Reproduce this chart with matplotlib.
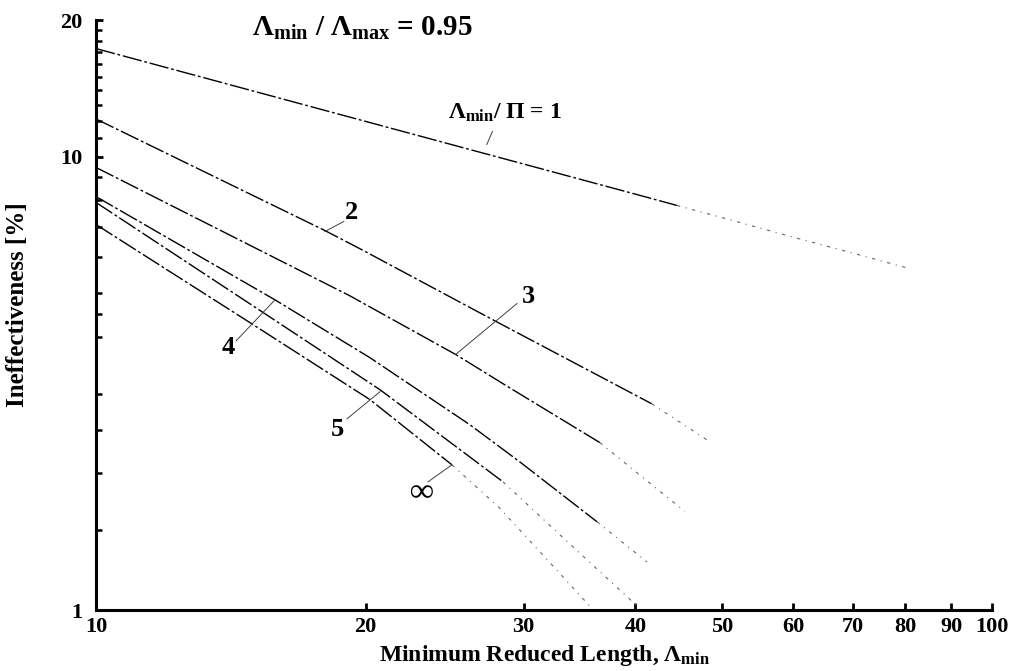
import numpy as np
import matplotlib
matplotlib.use("Agg")
import matplotlib.pyplot as plt

plt.rcParams['font.family'] = ['Liberation Serif', 'DejaVu Serif']
plt.rcParams['font.weight'] = 'bold'
plt.rcParams['mathtext.fontset'] = 'custom'
plt.rcParams['mathtext.rm'] = 'Liberation Serif:bold'
plt.rcParams['mathtext.it'] = 'Liberation Serif:bold'
plt.rcParams['mathtext.bf'] = 'Liberation Serif:bold'

# curves: x = minimum reduced length, y = ineffectiveness [%]
c1_x = [10, 20, 28.2, 40, 44.5, 50, 60, 70, 80.9]
c1_y = [17.3, 11.95, 9.95, 8.26, 7.80, 7.33, 6.64, 6.12, 5.66]
c2_x = [10, 18.0, 19.8, 28.0, 41.7, 48.1]
c2_y = [12.1, 6.87, 6.23, 4.32, 2.85, 2.37]
c3_x = [10, 19.2, 25.2, 28.8, 36.5, 41.7, 45.4]
c3_y = [9.46, 4.93, 3.66, 3.11, 2.34, 1.89, 1.65]
c4_x = [10, 15.84, 20.22, 26.15, 29.73, 36.24, 41.2]
c4_y = [8.16, 4.83, 3.60, 2.56, 2.12, 1.565, 1.276]
c5_x = [10, 15.44, 20.75, 28.46, 33.04, 39.74, 40.5]
c5_y = [7.92, 4.50, 3.06, 1.917, 1.457, 1.041, 1.0]
cinf_x = [10, 14.97, 20.22, 24.96, 28.2, 32.28, 35.9]
cinf_y = [7.08, 4.26, 2.91, 2.09, 1.68, 1.257, 1.0]

x_ticks = [10, 20, 30, 40, 50, 60, 70, 80, 90, 100]
y_ticks = [1, 10, 20]
y_minor = [1.5, 2, 2.5, 3, 4, 4.5, 5, 6, 7, 8, 9,
           11, 12, 13, 14, 15, 16, 17, 18, 19]

curves = [(c1_x, c1_y), (c2_x, c2_y), (c3_x, c3_y),
          (c4_x, c4_y), (c5_x, c5_y), (cinf_x, cinf_y)]
fade_at = [4, 4, 4, 5, 3, 3]   # index where the line turns faint

fig = plt.figure(figsize=(10.12, 6.71), dpi=100)
ax = fig.add_axes([96 / 1012, 61 / 671, 896 / 1012, 590 / 671])
ax.set_xscale('log')
ax.set_yscale('log')
ax.set_xlim(10, 100)
ax.set_ylim(1, 20)

for (cx, cy), k in zip(curves, fade_at):
    ax.plot(cx[:k + 1], cy[:k + 1], color='black', lw=1.0,
            dashes=(14, 2, 2, 2))
    ax.plot(cx[k:], cy[k:], color='0.4', lw=0.8, dashes=(3, 5, 1, 5))

for s in ['top', 'right']:
    ax.spines[s].set_visible(False)
for s in ['left', 'bottom']:
    ax.spines[s].set_linewidth(2.2)

ax.set_xticks(x_ticks)
ax.set_xticklabels([str(v) for v in x_ticks])
ax.xaxis.set_minor_locator(matplotlib.ticker.NullLocator())
ax.set_yticks(y_ticks)
ax.set_yticklabels([str(v) for v in y_ticks])
ax.set_yticks(y_minor, minor=True)
ax.yaxis.set_minor_formatter(matplotlib.ticker.NullFormatter())
ax.tick_params(axis='x', which='major', direction='in', length=5, width=2,
               labelsize=16, pad=5)
ax.tick_params(axis='y', which='major', direction='in', length=5, width=2,
               labelsize=16, pad=10)
ax.tick_params(axis='y', which='minor', direction='in', length=4, width=1.8)

# curve labels and leaders
lead = dict(color='0.25', lw=0.7)
ax.text(28.6, 12.5, r'$\Lambda_{\mathrm{min}}$/ $\Pi$ = 1', fontsize=17,
        ha='center', va='center')
ax.plot([27.7, 27.3], [11.36, 10.63], **lead)
ax.text(19.3, 7.52, '2', fontsize=19, ha='center', va='center')
ax.plot([18.9, 18.0], [7.19, 6.83], **lead)
ax.text(30.35, 4.91, '3', fontsize=19, ha='center', va='center')
ax.plot([29.5, 25.2], [4.74, 3.66], **lead)
ax.text(14.04, 3.79, '4', fontsize=19, ha='center', va='center')
ax.plot([14.33, 15.84], [3.92, 4.83], **lead)
ax.text(18.58, 2.50, '5', fontsize=19, ha='center', va='center')
ax.plot([19.06, 20.75], [2.64, 3.03], **lead)
ax.text(23.05, 1.81, '\u221e', fontsize=24, ha='center', va='center')
ax.plot([23.47, 24.96], [1.917, 2.09], **lead)

fig.text(362 / 1012, 1 - 28 / 671,
         r'$\Lambda_{\mathrm{min}}$ / $\Lambda_{\mathrm{max}}$ = 0.95',
         fontsize=21, ha='center', va='center')
fig.text(545 / 1012, 1 - 655 / 671,
         r'Minimum Reduced Length, $\Lambda_{\mathrm{min}}$',
         fontsize=17, ha='center', va='center')
fig.text(18 / 1012, 1 - 305 / 671, 'Ineffectiveness [%]', fontsize=18,
         rotation=90, ha='center', va='center')

fig.savefig('out.png', dpi=100)
